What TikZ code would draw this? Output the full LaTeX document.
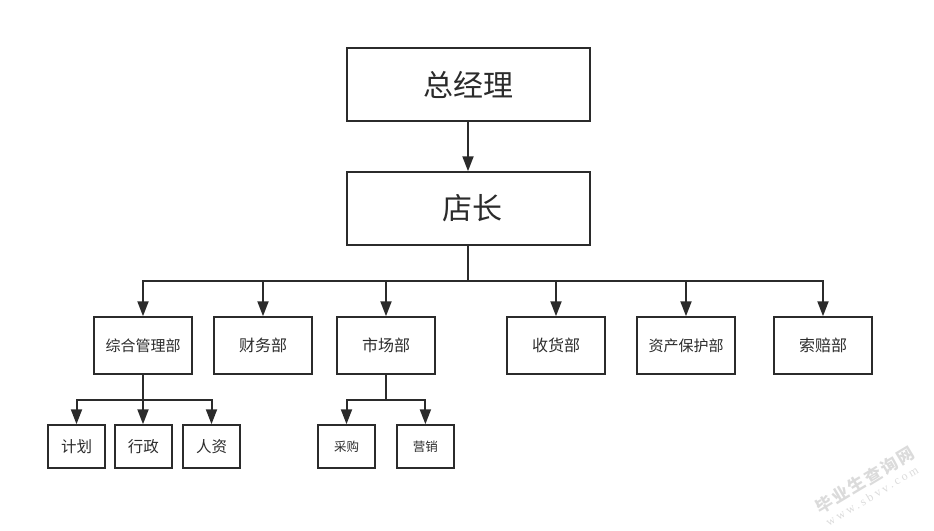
\documentclass[tikz,border=0pt]{standalone}
\usepackage{fontspec}
\setmainfont{Noto Sans CJK SC}
\newfontfamily\wmfont[LetterSpace=12]{Noto Sans CJK SC}
\newfontfamily\wmlatin[LetterSpace=24]{Liberation Serif}
\usetikzlibrary{arrows.meta}
\definecolor{ink}{HTML}{2B2B2B}
\tikzset{
 x=1pt,y=-1pt,
 box/.style={draw=ink,line width=1.5pt,rectangle,inner sep=0pt,text=ink,font=\fontsize{#1}{#1}\selectfont},
 big/.style={box=30,minimum width=243pt,minimum height=73pt},
 mid/.style={box=16,minimum width=98pt,minimum height=57pt},
 midlong/.style={box=15,minimum width=98pt,minimum height=57pt},
 small/.style={box=15.5,minimum width=57pt,minimum height=43pt},
 tiny/.style={box=12.5,minimum width=57pt,minimum height=43pt},
 link/.style={draw=ink,line width=2pt,-{Triangle[length=15pt,width=11pt]}},
 trunk/.style={draw=ink,line width=2pt},
}
\begin{document}
\begin{tikzpicture}
\useasboundingbox (0,0) rectangle (934,530);
\node[big] (gm) at (468.5,84.5) {总经理};
\node[big] (sm) at (468.5,208.5) {\hspace*{7pt}店长};
\node[midlong] (a) at (143,345.5) {综合管理部};
\node[mid] (b) at (263,345.5) {财务部};
\node[mid] (c) at (386,345.5) {市场部};
\node[mid] (d) at (556,345.5) {收货部};
\node[midlong] (e) at (686,345.5) {资产保护部};
\node[mid] (f) at (823,345.5) {索赔部};
\node[small] (a1) at (76.5,446.5) {计划};
\node[small] (a2) at (143.4,446.5) {行政};
\node[small] (a3) at (211.5,446.5) {人资};
\node[tiny] (c1) at (346.5,446.5) {采购};
\node[tiny] (c2) at (425.4,446.5) {营销};
\coordinate (j1) at (468,281);
\coordinate (j2) at (143,400);
\coordinate (j3) at (386,400);
\draw[link] (gm.south -| j1) -- (sm.north -| j1);
\draw[trunk] (sm.south -| j1) -- (j1);
\foreach \t in {a,b,c,d,e,f} \draw[link] (j1) -| (\t.north);
\draw[trunk] (a.south) -- (j2);
\draw[link] (j2) -| (a1.north);
\draw[link] (j2) -- (a2.north -| j2);
\draw[link] (j2) -| (a3.north);
\draw[trunk] (c.south) -- (j3);
\foreach \t in {c1,c2} \draw[link] (j3) -| (\t.north);
\node[rotate=31,text=black!14,font=\fontsize{17}{17}\selectfont\wmfont\bfseries] (wm1) at (865,480) {毕业生查询网};
\node[rotate=31,text=black!14,font=\fontsize{12}{12}\selectfont\wmlatin] (wm2) at (872,496) {www.sbvv.com};
\end{tikzpicture}
\end{document}
